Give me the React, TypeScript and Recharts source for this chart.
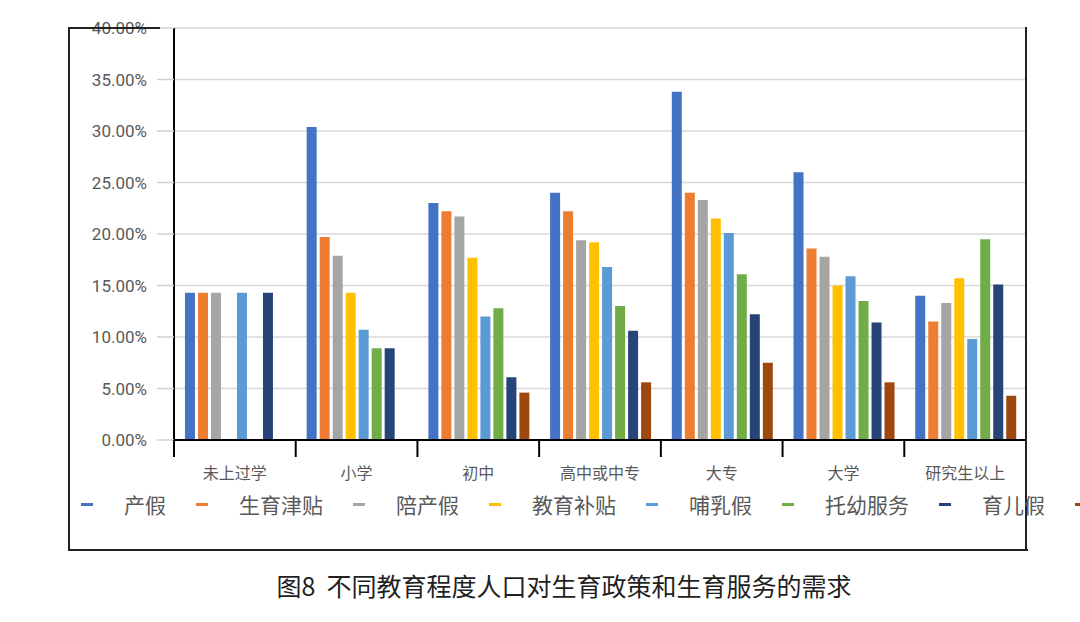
import { BarChart, Bar, XAxis, YAxis, CartesianGrid } from 'recharts';

const categories = ['未上过学', '小学', '初中', '高中或中专', '大专', '大学', '研究生以上'];
const seriesNames = ['产假', '生育津贴', '陪产假', '教育补贴', '哺乳假', '托幼服务', '育儿假', '其他'];
const seriesColors = ['#4472C4', '#ED7D31', '#A5A5A5', '#FFC000', '#5B9BD5', '#70AD47', '#264478', '#9E480E'];

// percentages per education level
const maternityLeave = [14.29, 30.4, 23.0, 24.0, 33.8, 26.0, 14.0];
const birthAllowance = [14.29, 19.7, 22.2, 22.2, 24.0, 18.6, 11.5];
const paternityLeave = [14.29, 17.9, 21.7, 19.4, 23.3, 17.8, 13.3];
const educationSubsidy = [0, 14.3, 17.7, 19.2, 21.5, 15.0, 15.7];
const nursingLeave = [14.29, 10.7, 12.0, 16.8, 20.1, 15.9, 9.8];
const childcareService = [0, 8.9, 12.8, 13.0, 16.1, 13.5, 19.5];
const parentalLeave = [14.29, 8.9, 6.1, 10.6, 12.2, 11.4, 15.1];
const otherNeeds = [0, 0, 4.6, 5.6, 7.5, 5.6, 4.3];

const seriesValues = [
  maternityLeave,
  birthAllowance,
  paternityLeave,
  educationSubsidy,
  nursingLeave,
  childcareService,
  parentalLeave,
  otherNeeds,
];

const yTicks = [0, 5, 10, 15, 20, 25, 30, 35, 40];

const data = categories.map((name, i) => {
  const row: Record<string, string | number> = { name };
  seriesValues.forEach((vals, k) => {
    row[`s${k}`] = vals[i];
  });
  return row;
});

const FONT = '"Noto Sans CJK SC", "Noto Sans", sans-serif';

function CategoryTick(props: any) {
  const { x, y, payload, index } = props;
  const half = payload.offset ?? 0;
  const isLast = index === categories.length - 1;
  return (
    <g>
      <line x1={x - half} x2={x - half} y1={y} y2={y + 17} stroke="#000" strokeWidth={2} />
      {isLast && <line x1={x + half} x2={x + half} y1={y} y2={y + 17} stroke="#000" strokeWidth={2} />}
      <text x={x} y={y + 39} textAnchor="middle" fill="#595959" fontSize={16} fontFamily={FONT}>
        {payload.value}
      </text>
    </g>
  );
}

export default function App() {
  return (
    <div
      style={{
        position: 'absolute',
        left: 0,
        top: 0,
        width: 1080,
        height: 622,
        overflow: 'hidden',
        background: '#fff',
        fontFamily: FONT,
      }}
    >
      <div style={{ position: 'absolute', left: 0, top: 0 }}>
        <BarChart
          width={1080}
          height={622}
          data={data}
          margin={{ top: 28, right: 54, bottom: 142, left: 0 }}
          barCategoryGap="9%"
          barGap={3}
        >
          <CartesianGrid vertical={false} stroke="#d9d9d9" strokeWidth={1.5} />
          <YAxis
            width={174}
            domain={[0, 40]}
            ticks={yTicks}
            interval={0}
            tickFormatter={(v: number) => `${v.toFixed(2)}%`}
            tickSize={17}
            tickMargin={10}
            axisLine={{ stroke: '#000', strokeWidth: 2 }}
            tickLine={{ stroke: '#d0d0d0', strokeWidth: 1.5 }}
            tick={{ fill: '#595959', fontSize: 17, fontFamily: 'Roboto, "Noto Sans", sans-serif' }}
          />
          <XAxis
            dataKey="name"
            height={40}
            interval={0}
            tickSize={0}
            tickMargin={0}
            tickLine={false}
            axisLine={{ stroke: '#000', strokeWidth: 2 }}
            tick={CategoryTick}
          />
          {seriesNames.map((s, k) => (
            <Bar key={s} dataKey={`s${k}`} name={s} fill={seriesColors[k]} isAnimationActive={false} />
          ))}
        </BarChart>
      </div>

      {/* frame */}
      <div style={{ position: 'absolute', left: 68, top: 27, width: 92, height: 2, background: '#222' }} />
      <div style={{ position: 'absolute', left: 68, top: 27, width: 2, height: 524, background: '#222' }} />
      <div style={{ position: 'absolute', left: 68, top: 549, width: 960, height: 2, background: '#222' }} />
      <div style={{ position: 'absolute', left: 1025, top: 27, width: 2, height: 524, background: '#222' }} />

      {/* legend; the last entry's label falls off the right edge in the source, so only its marker shows */}
      <div
        style={{
          position: 'absolute',
          left: 81,
          top: 489,
          display: 'flex',
          alignItems: 'center',
          whiteSpace: 'nowrap',
          height: 30,
        }}
      >
        {seriesNames.map((s, k) => (
          <div key={s} style={{ display: 'flex', alignItems: 'center' }}>
            <span
              style={{ display: 'inline-block', width: 12, height: 3, background: seriesColors[k], marginRight: 31 }}
            />
            {k < seriesNames.length - 1 && (
              <span style={{ fontSize: 21, color: '#595959', marginRight: 30, lineHeight: '30px' }}>{s}</span>
            )}
          </div>
        ))}
      </div>

      <div
        style={{
          position: 'absolute',
          left: 0,
          width: 1128,
          top: 570,
          textAlign: 'center',
          fontSize: 25,
          lineHeight: '30px',
          color: '#1f1f1f',
          whiteSpace: 'nowrap',
        }}
      >
        图8&nbsp;&nbsp;不同教育程度人口对生育政策和生育服务的需求
      </div>
    </div>
  );
}
